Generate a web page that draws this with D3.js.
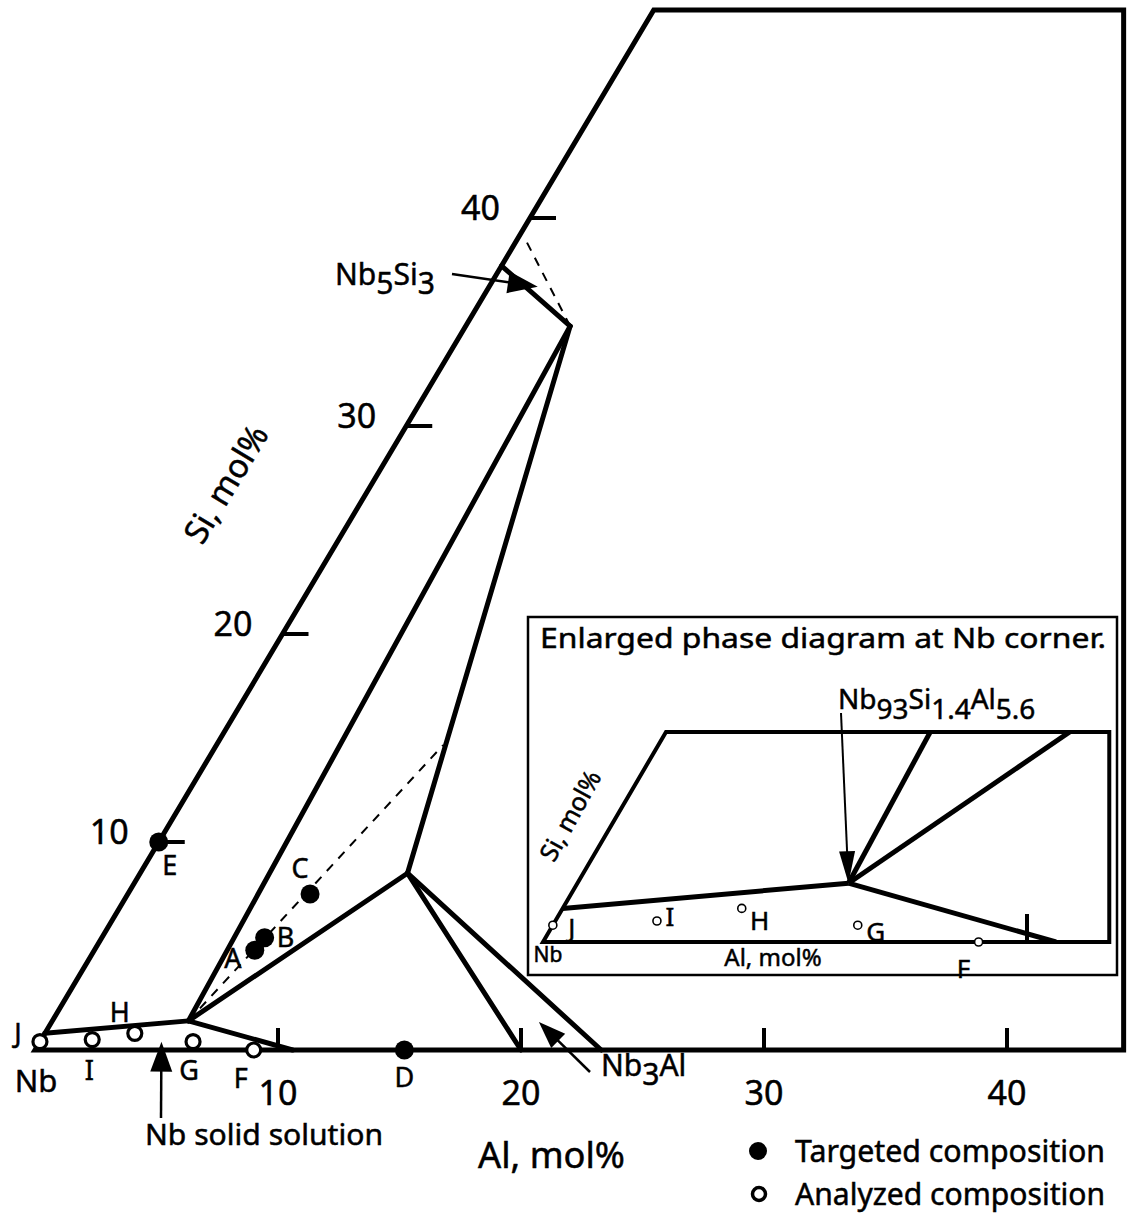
<!DOCTYPE html>
<html><head><meta charset="utf-8">
<script src="https://cdn.jsdelivr.net/npm/d3@7"></script>
<style>
body{margin:0;background:#fff}
svg{display:block}
text{font-family:"Noto Sans","DejaVu Sans",sans-serif;fill:#000;stroke:#000;stroke-width:0.5px}
</style>
</head><body>
<svg id="chart" width="1137" height="1213"></svg>
<script>
// ---- compositions, mol% given as [Al, Si] (balance Nb) ----
const targetedIds = ["A", "B", "C", "D", "E"];
const targetedAl  = [6.6, 6.7, 7.5, 15.2, 0];
const targetedSi  = [4.8, 5.4, 7.5, 0, 10];

const analyzedIds = ["J", "I", "H", "G", "F"];
const analyzedAl  = [0, 2.1, 3.7, 6.3, 9.0];
const analyzedSi  = [0.4, 0.5, 0.8, 0.4, 0];

// phase boundaries (solid) and tie lines (dashed)
const nbssCorner   = [5.6, 1.4];   // Nb93Si1.4Al5.6
const nb3alCorner  = [11, 8.5];
const nb5si3Corner = [4.3, 34.8];
const boundaries = [
  [[0, 0.8], nbssCorner],
  [nbssCorner, [10.6, 0]],
  [nbssCorner, nb5si3Corner],
  [nbssCorner, nb3alCorner],
  [nb3alCorner, nb5si3Corner],
  [nb3alCorner, [20, 0]],
  [nb3alCorner, [23.3, 0]],
  [nb5si3Corner, [0, 37.7]]
];
const dashedLines = [
  [nbssCorner, [9.33, 14.66]],
  [nb5si3Corner, [0.4, 38.9]]
];

const alTicks = [10, 20, 30, 40];
const siTicks = [10, 20, 30, 40];
const frameSiMax = 50, frameAlMax = 44.8;

const insetAlTicks = [10];
const insetSiMax = 5, insetAlMax = 11.7;

// ---- projections (ternary, Nb at origin) ----
const xAl   = d3.scaleLinear().domain([0, 40]).range([35, 1007]);
const ySi   = d3.scaleLinear().domain([0, 40]).range([1050, 218]);
const shear = d3.scaleLinear().domain([0, 40]).range([0, 495]);
const P = ([a, s]) => [xAl(a) + shear(s), ySi(s)];

const xAlI   = d3.scaleLinear().domain([0, 10]).range([543, 1027]);
const ySiI   = d3.scaleLinear().domain([0, 5]).range([942, 732]);
const shearI = d3.scaleLinear().domain([0, 5]).range([0, 123]);
const PI = ([a, s]) => [xAlI(a) + shearI(s), ySiI(s)];

const svg = d3.select("#chart");
const line = d3.line();

function arrow(g, [x1, y1], [x2, y2], len, wid, sw) {
  const dx = x2 - x1, dy = y2 - y1, L = Math.hypot(dx, dy);
  const ux = dx / L, uy = dy / L;
  const bx = x2 - ux * len, by = y2 - uy * len;
  g.append("line").attr("x1", x1).attr("y1", y1).attr("x2", bx + ux * 2).attr("y2", by + uy * 2)
    .attr("stroke", "#000").attr("stroke-width", sw);
  g.append("path")
    .attr("d", `M${x2},${y2}L${bx - uy * wid / 2},${by + ux * wid / 2}L${bx + uy * wid / 2},${by - ux * wid / 2}Z`)
    .attr("fill", "#000");
}

// text made of [string, isSubscript] parts
function subText(g, x, y, parts, size, subDy) {
  const t = g.append("text").attr("x", x).attr("y", y).attr("font-size", size);
  let low = false;
  parts.forEach(([str, sub]) => {
    const sp = t.append("tspan").text(str);
    if (sub && !low) { sp.attr("dy", subDy); low = true; }
    else if (!sub && low) { sp.attr("dy", -subDy); low = false; }
  });
  return t;
}

// ---- main diagram ----
const main = svg.append("g");

// outer frame: Nb-Si edge, top at Si 50, right edge vertical
const frame = [P([0, 0]), P([0, frameSiMax]), [xAl(frameAlMax), ySi(frameSiMax)], [xAl(frameAlMax), ySi(0)]];
main.append("path").attr("d", line(frame) + "Z")
  .attr("fill", "none").attr("stroke", "#000").attr("stroke-width", 5).attr("stroke-linejoin", "miter");

// ticks
main.selectAll(".alt").data(alTicks).join("line")
  .attr("x1", d => P([d, 0])[0]).attr("x2", d => P([d, 0])[0])
  .attr("y1", ySi(0)).attr("y2", ySi(0) - 22)
  .attr("stroke", "#000").attr("stroke-width", 4);
main.selectAll(".all").data(alTicks).join("text")
  .attr("x", d => P([d, 0])[0]).attr("y", ySi(0) + 55)
  .attr("text-anchor", "middle").attr("font-size", 34).text(d => d);

main.selectAll(".sit").data(siTicks).join("line")
  .attr("x1", d => P([0, d])[0]).attr("x2", d => P([0, d])[0] + 26)
  .attr("y1", d => P([0, d])[1]).attr("y2", d => P([0, d])[1])
  .attr("stroke", "#000").attr("stroke-width", 4);
main.selectAll(".sil").data(siTicks).join("text")
  .attr("x", d => P([0, d])[0] - 30).attr("y", d => P([0, d])[1] + 2)
  .attr("text-anchor", "end").attr("font-size", 34).text(d => d);

// phase boundaries
main.selectAll(".bd").data(boundaries).join("path")
  .attr("d", d => line(d.map(P)))
  .attr("fill", "none").attr("stroke", "#000").attr("stroke-width", 5).attr("stroke-linecap", "round");
main.selectAll(".ds").data(dashedLines).join("path")
  .attr("d", d => line(d.map(P)))
  .attr("fill", "none").attr("stroke", "#000").attr("stroke-width", 2).attr("stroke-dasharray", "9,8");

// compositions
const targeted = targetedIds.map((id, i) => ({id, c: [targetedAl[i], targetedSi[i]]}));
const analyzed = analyzedIds.map((id, i) => ({id, c: [analyzedAl[i], analyzedSi[i]]}));

main.selectAll(".tp").data(targeted).join("circle")
  .attr("cx", d => P(d.c)[0]).attr("cy", d => P(d.c)[1]).attr("r", 9.5).attr("fill", "#000");
main.selectAll(".ap").data(analyzed).join("circle")
  .attr("cx", d => P(d.c)[0]).attr("cy", d => P(d.c)[1]).attr("r", 7)
  .attr("fill", "#fff").attr("stroke", "#000").attr("stroke-width", 3.2);

const mainLabelOffset = {A: [-22, 18], B: [21, 9], C: [-10, -16], D: [0, 37], E: [11, 33],
                         J: [-22, 1], I: [-3, 40], H: [-15, -11], G: [-4, 38], F: [-13, 38]};
main.selectAll(".pl").data(targeted.concat(analyzed)).join("text")
  .attr("x", d => P(d.c)[0] + mainLabelOffset[d.id][0])
  .attr("y", d => P(d.c)[1] + mainLabelOffset[d.id][1])
  .attr("text-anchor", "middle").attr("font-size", 27).text(d => d.id);

// axis captions and phase names
main.append("text").attr("x", P([0, 0])[0] + 1).attr("y", ySi(0) + 42)
  .attr("text-anchor", "middle").attr("font-size", 31).text("Nb");
main.append("text").attr("x", 478).attr("y", 1168).attr("font-size", 36)
  .attr("textLength", 147).attr("lengthAdjust", "spacingAndGlyphs").text("Al, mol%");
main.append("text").attr("transform", "translate(236,490) rotate(-59)")
  .attr("text-anchor", "middle").attr("font-size", 33).text("Si, mol%");

main.append("text").attr("x", 145).attr("y", 1145).attr("font-size", 29)
  .attr("textLength", 238).attr("lengthAdjust", "spacingAndGlyphs").text("Nb solid solution");
arrow(main, [161, 1118], P([5, 0.4]), 30, 22, 2.5);

subText(main, 601, 1076, [["Nb"], ["3", true], ["Al"]], 30, 9);
arrow(main, [590, 1072], P([20.05, 1.35]), 27, 20, 2.5);

subText(main, 335, 285, [["Nb"], ["5", true], ["Si"], ["3", true]], 30, 9);
arrow(main, [452, 274], P([2.0, 36.7]), 30, 22, 2.5);

// legend
main.append("circle").attr("cx", 758).attr("cy", 1151).attr("r", 9).attr("fill", "#000");
main.append("text").attr("x", 795).attr("y", 1162).attr("font-size", 30)
  .attr("textLength", 310).attr("lengthAdjust", "spacingAndGlyphs").text("Targeted composition");
main.append("circle").attr("cx", 759).attr("cy", 1194).attr("r", 6.5)
  .attr("fill", "#fff").attr("stroke", "#000").attr("stroke-width", 3.5);
main.append("text").attr("x", 795).attr("y", 1205).attr("font-size", 30)
  .attr("textLength", 310).attr("lengthAdjust", "spacingAndGlyphs").text("Analyzed composition");

// ---- inset: enlarged Nb corner ----
const inset = svg.append("g");
inset.append("rect").attr("x", 528).attr("y", 617).attr("width", 589).attr("height", 358)
  .attr("fill", "#fff").attr("stroke", "#000").attr("stroke-width", 2.5);
inset.append("text").attr("x", 540).attr("y", 648).attr("font-size", 28)
  .attr("textLength", 566).attr("lengthAdjust", "spacingAndGlyphs")
  .text("Enlarged phase diagram at Nb corner.");

const iframe = [PI([0, 0]), PI([0, insetSiMax]), [xAlI(insetAlMax), ySiI(insetSiMax)], [xAlI(insetAlMax), ySiI(0)]];
svg.append("defs").append("clipPath").attr("id", "insetClip")
  .append("path").attr("d", line(iframe) + "Z");

inset.append("g").attr("clip-path", "url(#insetClip)")
  .selectAll("path").data(boundaries).join("path")
  .attr("d", d => line(d.map(PI)))
  .attr("fill", "none").attr("stroke", "#000").attr("stroke-width", 5);
inset.append("path").attr("d", line(iframe) + "Z")
  .attr("fill", "none").attr("stroke", "#000").attr("stroke-width", 4);

inset.selectAll(".it").data(insetAlTicks).join("line")
  .attr("x1", d => PI([d, 0])[0]).attr("x2", d => PI([d, 0])[0])
  .attr("y1", ySiI(0)).attr("y2", ySiI(0) - 28)
  .attr("stroke", "#000").attr("stroke-width", 4);

inset.selectAll(".iap").data(analyzed).join("circle")
  .attr("cx", d => PI(d.c)[0]).attr("cy", d => PI(d.c)[1]).attr("r", 4)
  .attr("fill", "#fff").attr("stroke", "#000").attr("stroke-width", 1.6);
const insetLabelOffset = {J: [19, 12], I: [13, 5], H: [18, 22], G: [18, 16], F: [-15, 36]};
inset.selectAll(".ipl").data(analyzed).join("text")
  .attr("x", d => PI(d.c)[0] + insetLabelOffset[d.id][0])
  .attr("y", d => PI(d.c)[1] + insetLabelOffset[d.id][1])
  .attr("text-anchor", "middle").attr("font-size", 26).text(d => d.id);

inset.append("text").attr("x", PI([0, 0])[0] + 5).attr("y", ySiI(0) + 20)
  .attr("text-anchor", "middle").attr("font-size", 21).text("Nb");
inset.append("text").attr("x", 773).attr("y", 966).attr("text-anchor", "middle")
  .attr("font-size", 24).text("Al, mol%");
inset.append("text").attr("transform", "translate(578,820) rotate(-61)")
  .attr("text-anchor", "middle").attr("font-size", 25).text("Si, mol%");

subText(inset, 838, 709, [["Nb"], ["93", true], ["Si"], ["1.4", true], ["Al"], ["5.6", true]], 28, 10);
arrow(inset, [841, 713], PI(nbssCorner), 32, 16, 2);
</script>
</body></html>
